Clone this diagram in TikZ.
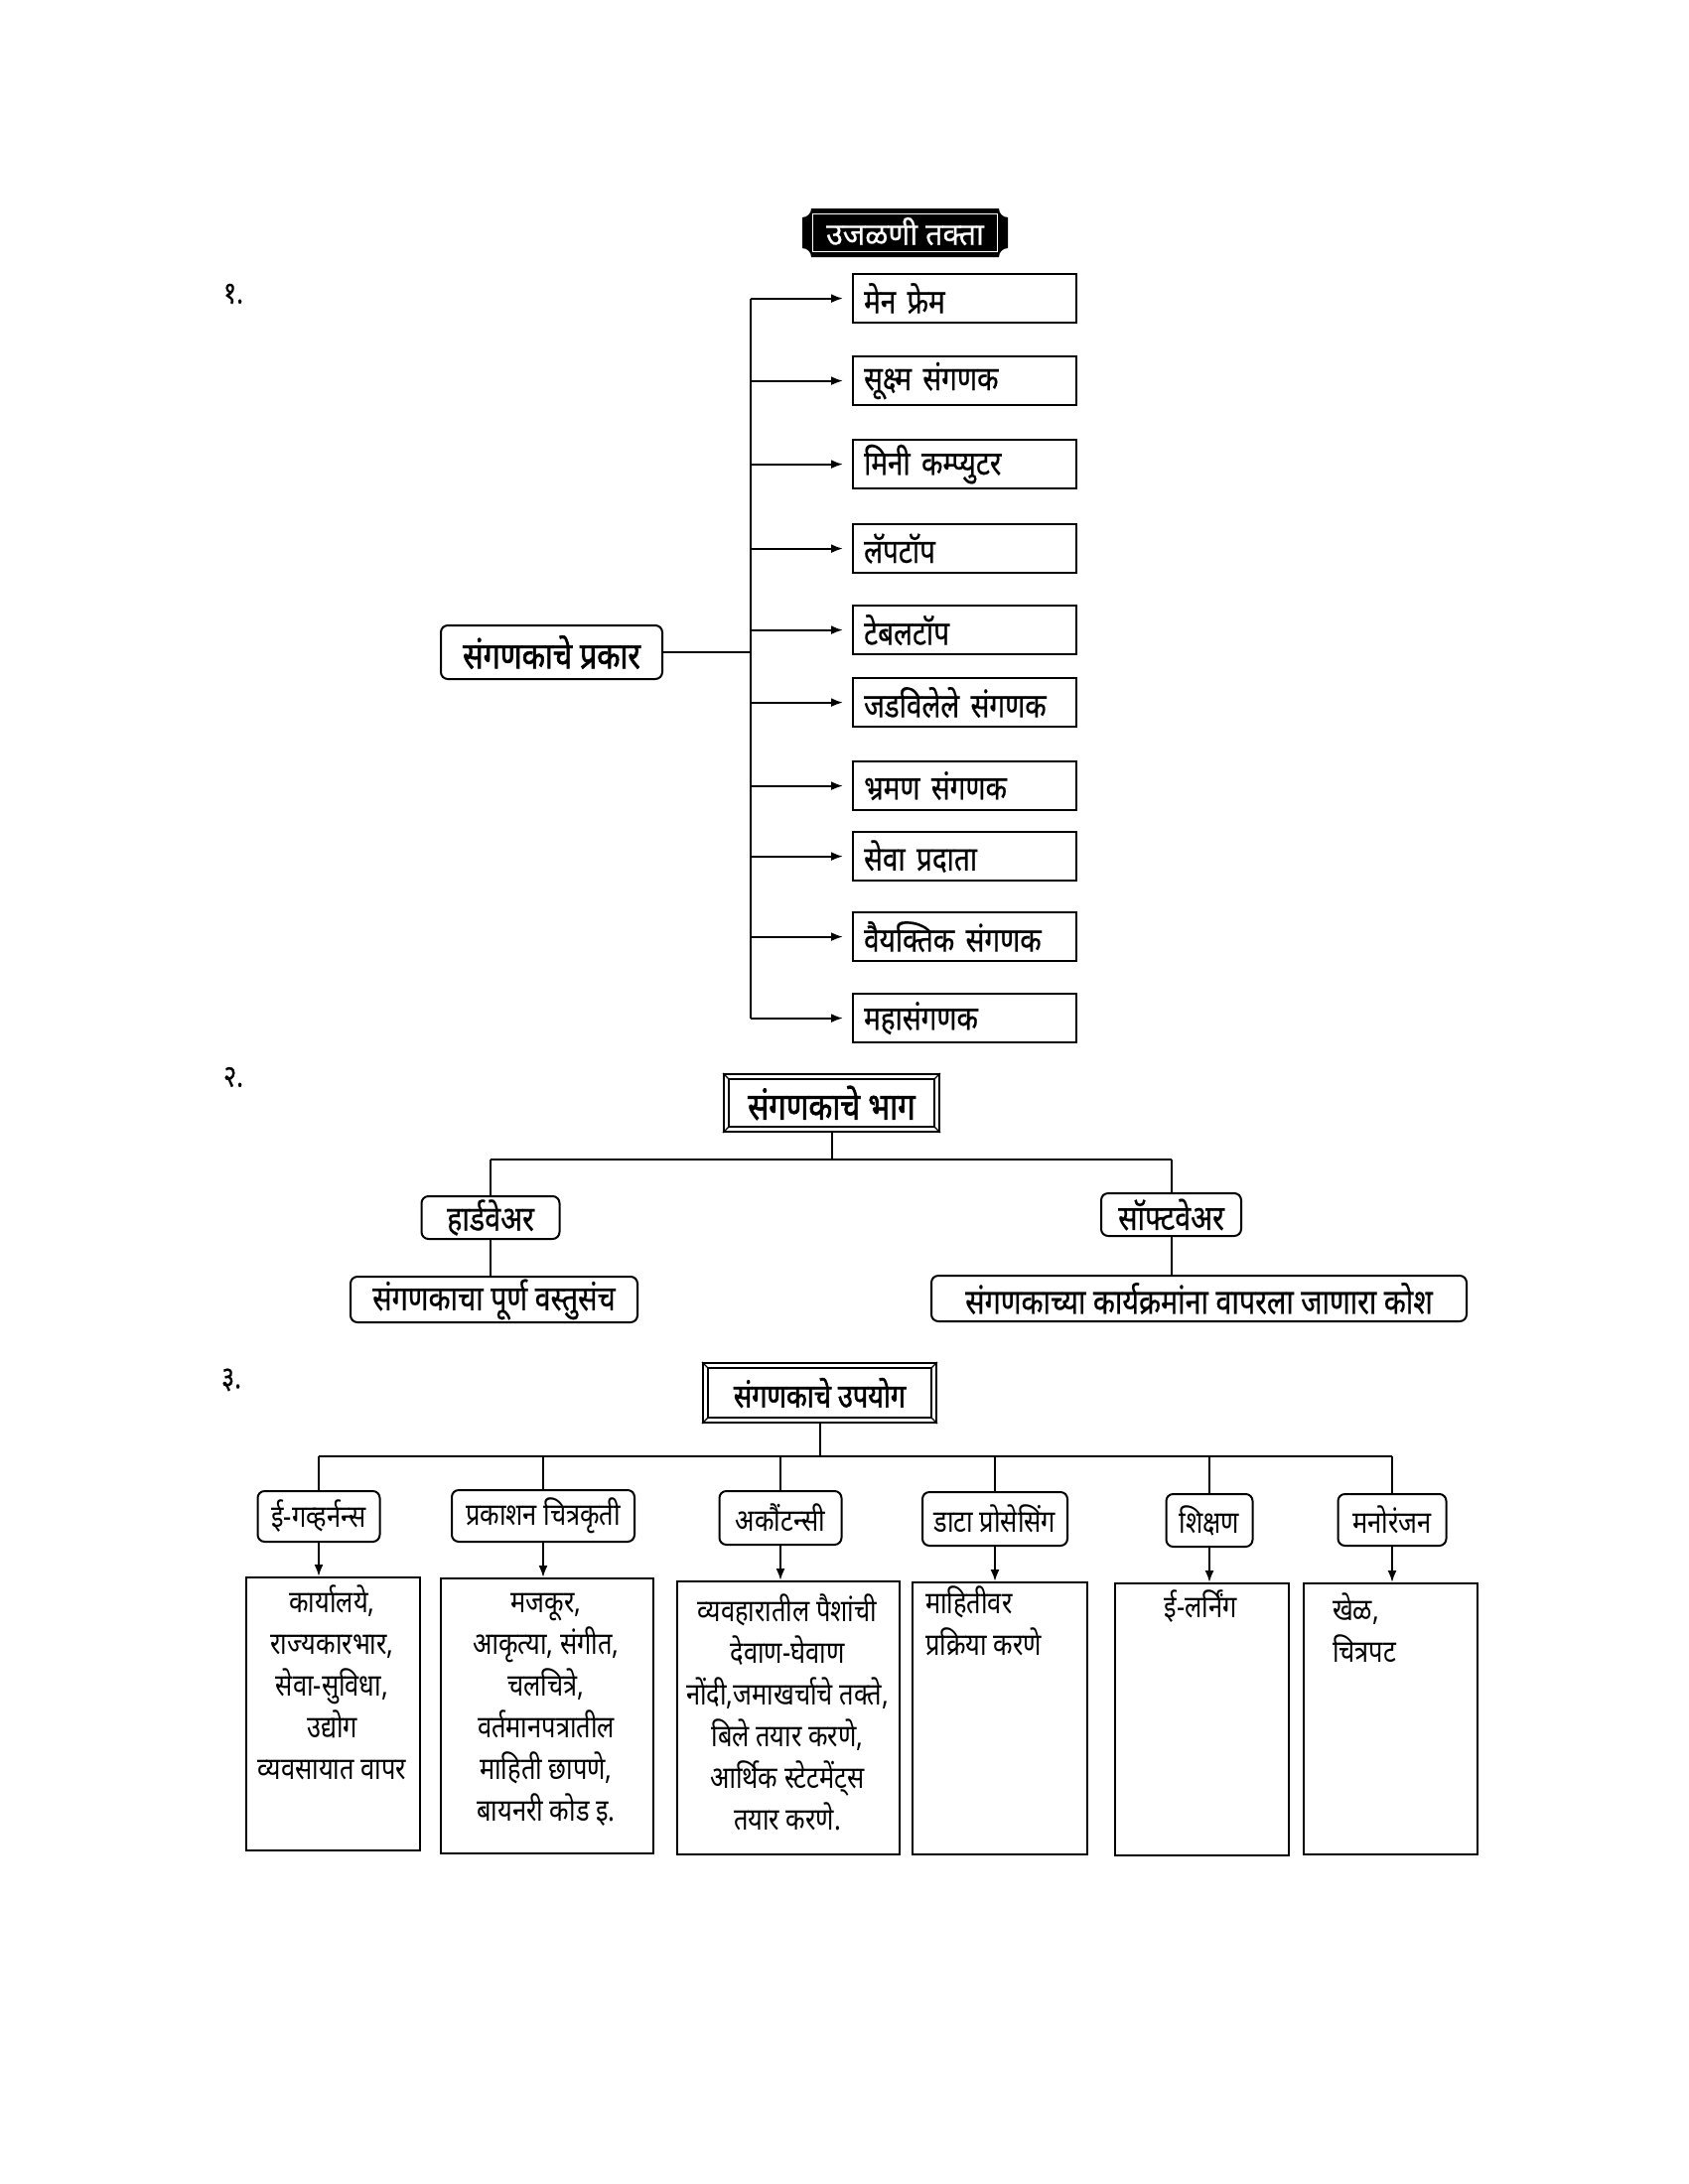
\documentclass[tikz,border=0pt]{standalone}
\usepackage{fontspec}
\setmainfont{Noto Sans}[Script=Devanagari]
\newfontfamily\devm{Noto Sans}[Script=Devanagari,FakeStretch=0.82,FakeBold=0.5]
\newfontfamily\devb{Noto Sans}[Script=Devanagari,FakeStretch=0.82,FakeBold=1.6]
\newfontfamily\devl{Noto Sans}[Script=Devanagari,FakeStretch=0.82]
\newfontfamily\devt{Noto Sans}[Script=Devanagari,FakeStretch=0.98,FakeBold=0.5]
\newcommand\fA{\devm\fontsize{34}{40}\selectfont}
\newcommand\fSrc{\devb\fontsize{37}{40}\selectfont}
\newcommand\fTwo{\devm\fontsize{35}{40}\selectfont}
\newcommand\fHtwo{\devb\fontsize{38}{44}\selectfont}
\newcommand\fHthree{\devb\fontsize{33}{40}\selectfont}
\newcommand\fTitle{\devt\fontsize{31}{40}\selectfont}
\newcommand\fB{\devl\fontsize{31}{42}\selectfont}
\newcommand\fN{\devm\fontsize{31}{34}\selectfont}
\usetikzlibrary{arrows.meta}
\begin{document}
\begin{tikzpicture}[x=1pt,y=-1pt,line width=2pt,
  arr/.style={-{Latex[length=12pt,width=9pt]}},
  tbox/.style={draw,line width=2.2pt,minimum width=225pt,minimum height=49pt,text width=203pt,inner xsep=11pt,inner ysep=0pt,align=left,anchor=north west,font=\fA},
  rbox/.style={draw,rounded corners=7pt,line width=2pt,inner sep=0pt,font=\fTwo},
  hdr/.style={draw,line width=2pt,inner sep=0pt},
  ubox/.style={draw,line width=2pt,inner sep=0pt,anchor=north west},
  ctext/.style={font=\fB,align=center,inner sep=0pt,anchor=north},
  ltext/.style={font=\fB,align=left,inner sep=0pt,anchor=north west},
  num/.style={font=\fN,inner sep=0pt}
]
\useasboundingbox (0,0) rectangle (1700,2200);
\fill[white] (0,0) rectangle (1700,2200);

% ---------- title plaque ----------
\fill[black] (817,210) -- (1006,210) .. controls (1006,214.95) and (1010.05,219) .. (1015,219)
  -- (1015,250) .. controls (1010.05,250) and (1006,254.05) .. (1006,259)
  -- (817,259) .. controls (817,254.05) and (812.95,250) .. (808,250)
  -- (808,219) .. controls (812.95,219) and (817,214.95) .. (817,210) -- cycle;
\draw[white,line width=1.2pt] (818.5,215.5) rectangle (1004.5,253.5);
\node[font=\fTitle,text=white,inner sep=0pt] (title) at (911.5,233) {उजळणी तक्ता};

% ---------- section 1 ----------
\node[num] (n1) at (235,296) {१.};
\node[tbox] (b1) at (858,275) {मेन फ्रेम};
\node[tbox] (b2) at (858,358) {सूक्ष्म संगणक};
\node[tbox] (b3) at (858,442) {मिनी कम्प्युटर};
\node[tbox] (b4) at (858,527) {लॅपटॉप};
\node[tbox] (b5) at (858,609) {टेबलटॉप};
\node[tbox] (b6) at (858,682) {जडविलेले संगणक};
\node[tbox] (b7) at (858,766) {भ्रमण संगणक};
\node[tbox] (b8) at (858,837) {सेवा प्रदाता};
\node[tbox] (b9) at (858,918) {वैयक्तिक संगणक};
\node[tbox] (b10) at (858,1000) {महासंगणक};
\node[rbox,font=\fSrc,minimum width=223pt,minimum height=54pt] (src) at (555.5,657) {संगणकाचे प्रकार};
\coordinate (vx) at (756,0);
\draw (src.east) -- (src.east -| vx);
\draw (b1.west -| vx) -- (b10.west -| vx);
\foreach \b in {b1,b2,b3,b4,b5,b6,b7,b8,b9,b10}{
  \draw[arr,shorten >=9pt] (\b.west -| vx) -- (\b.west);
}

% ---------- section 2 ----------
\node[num] (n2) at (235,1085) {२.};
\node[hdr,font=\fHtwo,minimum width=217pt,minimum height=58pt] (h2) at (837.5,1111) {संगणकाचे भाग};
\draw[line width=1.3pt] ([shift={(6,6)}]h2.north west) rectangle ([shift={(-6,-6)}]h2.south east);
\draw[line width=1.3pt] (h2.north west) -- ++(6,6) (h2.north east) -- ++(-6,6)
  (h2.south west) -- ++(6,-6) (h2.south east) -- ++(-6,-6);
\coordinate (bus2) at (0,1168);
\node[rbox,minimum width=139pt,minimum height=43pt] (hw) at (494,1226.5) {हार्डवेअर};
\node[rbox,minimum width=141pt,minimum height=43pt] (sw) at (1179.5,1223.5) {सॉफ्टवेअर};
\node[rbox,minimum width=289pt,minimum height=46pt] (hwc) at (497.5,1309) {संगणकाचा पूर्ण वस्तुसंच};
\node[rbox,minimum width=539pt,minimum height=46pt] (swc) at (1207.5,1308) {संगणकाच्या कार्यक्रमांना वापरला जाणारा कोश};
\draw (h2.south) -- (h2.south |- bus2);
\draw (hw.north |- bus2) -- (sw.north |- bus2);
\draw (hw.north) -- (hw.north |- bus2);
\draw (sw.north) -- (sw.north |- bus2);
\draw (hw.south) -- (hw.south |- hwc.north);
\draw (sw.south) -- (sw.south |- swc.north);

% ---------- section 3 ----------
\node[num] (n3) at (233,1390) {३.};
\node[hdr,font=\fHthree,minimum width=235pt,minimum height=60pt] (h3) at (825.5,1403) {संगणकाचे उपयोग};
\draw[line width=1.3pt] ([shift={(6,6)}]h3.north west) rectangle ([shift={(-6,-6)}]h3.south east);
\draw[line width=1.3pt] (h3.north west) -- ++(6,6) (h3.north east) -- ++(-6,6)
  (h3.south west) -- ++(6,-6) (h3.south east) -- ++(-6,-6);
\coordinate (bus3) at (0,1467);
\node[rbox,font=\fB,minimum width=123pt,minimum height=51pt] (c1) at (321,1527.5) {ई-गव्हर्नन्स};
\node[rbox,font=\fB,minimum width=184pt,minimum height=52pt] (c2) at (547,1527) {प्रकाशन चित्रकृती};
\node[rbox,font=\fB,minimum width=123pt,minimum height=54pt] (c3) at (786,1529) {अकौंटन्सी};
\node[rbox,font=\fB,minimum width=146pt,minimum height=54pt] (c4) at (1002,1530) {डाटा प्रोसेसिंग};
\node[rbox,font=\fB,minimum width=87pt,minimum height=53pt] (c5) at (1218,1531.5) {शिक्षण};
\node[rbox,font=\fB,minimum width=109pt,minimum height=52pt] (c6) at (1402,1531) {मनोरंजन};
\draw (h3.south) -- (h3.south |- bus3);
\draw (c1.north |- bus3) -- (c6.north |- bus3);
\foreach \c in {c1,c2,c3,c4,c5,c6}{
  \draw (\c.north) -- (\c.north |- bus3);
}
\node[ubox,minimum width=175pt,minimum height=275pt] (d1) at (247,1588) {};
\node[ubox,minimum width=214pt,minimum height=277pt] (d2) at (443,1589) {};
\node[ubox,minimum width=224pt,minimum height=275pt] (d3) at (681,1592) {};
\node[ubox,minimum width=176pt,minimum height=274pt] (d4) at (918,1593) {};
\node[ubox,minimum width=175pt,minimum height=274pt] (d5) at (1122,1594) {};
\node[ubox,minimum width=175pt,minimum height=273pt] (d6) at (1312,1594) {};
\draw[arr] (c1.south) -- (c1.south |- d1.north);
\draw[arr] (c2.south) -- (c2.south |- d2.north);
\draw[arr] (c3.south) -- (c3.south |- d3.north);
\draw[arr] (c4.south) -- (c4.south |- d4.north);
\draw[arr] (c5.south) -- (c5.south |- d5.north);
\draw[arr] (c6.south) -- (c6.south |- d6.north);
\node[ctext] (t1) at (334.5,1594) {\strut कार्यालये,\\ राज्यकारभार,\\ सेवा-सुविधा,\\ उद्योग\\ व्यवसायात वापर};
\node[ctext] (t2) at (550,1594) {\strut मजकूर,\\ आकृत्या, संगीत,\\ चलचित्रे,\\ वर्तमानपत्रातील\\ माहिती छापणे,\\ बायनरी कोड इ.};
\node[ctext] (t3) at (793,1603) {\strut व्यवहारातील पैशांची\\ देवाण-घेवाण\\ नोंदी,जमाखर्चाचे तक्ते,\\ बिले तयार करणे,\\ आर्थिक स्टेटमेंट्स\\ तयार करणे.};
\node[ltext] (t4) at (931,1595) {\strut माहितीवर\\ प्रक्रिया करणे};
\node[ctext] (t5) at (1209,1599) {\strut ई-लर्निंग};
\node[ltext] (t6) at (1341,1602) {\strut खेळ,\\ चित्रपट};
\end{tikzpicture}
\end{document}
